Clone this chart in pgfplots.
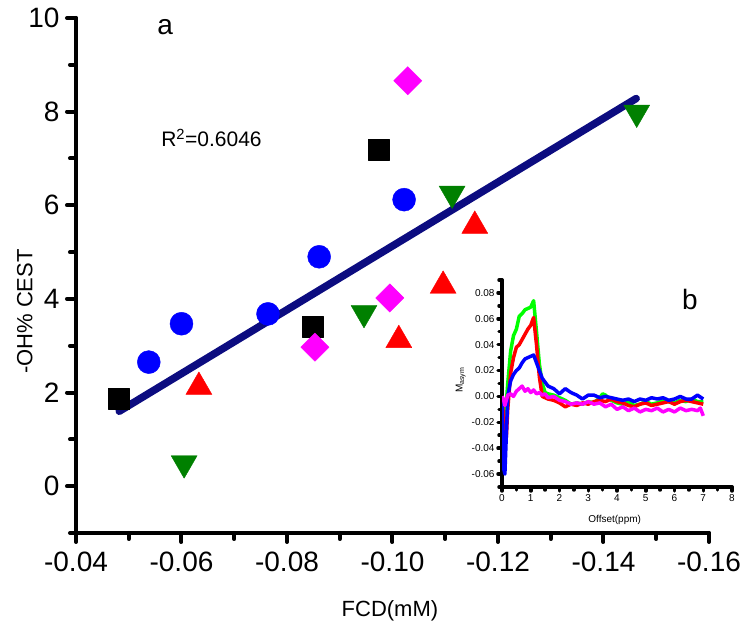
\documentclass[border=0pt]{standalone}
\usepackage{fontspec}
\setmainfont{Liberation Sans}
\usepackage{pgfplots}
\pgfplotsset{compat=1.18}
\definecolor{navy}{RGB}{12,12,128}
\definecolor{mgreen}{RGB}{0,128,0}
\definecolor{lgreen}{RGB}{0,255,0}
\definecolor{mag}{RGB}{255,0,255}
\definecolor{pblue}{RGB}{0,0,255}
\definecolor{pred}{RGB}{255,0,0}
\begin{document}
\begin{tikzpicture}
\useasboundingbox (-76pt,-98pt) rectangle (671pt,533pt);
\begin{axis}[
  at={(0pt,0pt)}, anchor=south west,
  scale only axis, width=633pt, height=515pt,
  x dir=reverse,
  xmin=-0.16, xmax=-0.04, ymin=-1, ymax=10,
  axis x line*=bottom, axis y line*=left,
  axis line style={line width=4pt, line cap=round, -},
  xtick={-0.04,-0.06,-0.08,-0.10,-0.12,-0.14,-0.16},
  xticklabels={-0.04,-0.06,-0.08,-0.10,-0.12,-0.14,-0.16},
  minor xtick={-0.05,-0.07,-0.09,-0.11,-0.13,-0.15},
  ytick={0,2,4,6,8,10},
  minor ytick={-1,1,3,5,7,9},
  /pgf/number format/assume math mode=true,
  tick align=outside,
  major tick length=9pt, minor tick length=6pt,
  tick style={black, line width=4pt, line cap=round},
  tick label style={font=\fontsize{28}{30}\selectfont},
  xticklabel style={yshift=-6pt},
  yticklabel style={xshift=-4pt},
  xlabel={FCD(mM)}, ylabel={-OH\% CEST},
  label style={font=\fontsize{22}{24}\selectfont},
  x label style={at={(axis description cs:0.496,-0.151)}, anchor=center},
  y label style={at={(axis description cs:-0.081,0.43)}, anchor=center, rotate=0},
]
% regression line
\addplot[navy, line width=7.5pt, line cap=round] coordinates {(-0.0482,1.60) (-0.1462,8.28)};
% black squares
\addplot[only marks, mark=square*, mark size=10.5pt, mark options={black, fill=black, line join=round, line width=1pt}]
  coordinates {(-0.0482,1.86) (-0.0849,3.40) (-0.0974,7.19)};
% blue circles
\addplot[only marks, mark=*, mark size=11.5pt, mark options={pblue, fill=pblue}]
  coordinates {(-0.0538,2.65) (-0.0600,3.47) (-0.0764,3.68) (-0.0861,4.90) (-0.1022,6.12)};
% red up triangles
\addplot[only marks, mark=triangle*, mark size=15pt, mark options={pred, fill=pred, line join=round}]
  coordinates {(-0.0633,2.12) (-0.1012,3.12) (-0.1096,4.28) (-0.1156,5.56)};
% green down triangles
\addplot[only marks, mark=triangle*, mark size=15pt, mark options={mgreen, fill=mgreen, rotate=180, line join=round}]
  coordinates {(-0.0605,0.49) (-0.0946,3.70) (-0.1113,6.25) (-0.1463,7.98)};
% magenta diamonds
\addplot[only marks, mark=square*, mark size=10pt, mark options={mag, fill=mag, rotate=45, line join=round}]
  coordinates {(-0.0853,2.97) (-0.0995,4.02) (-0.1029,8.66)};
\node[font=\fontsize{28}{30}\selectfont] at (axis cs:-0.0569,9.8) {a};
\node[font=\fontsize{21}{24}\selectfont, anchor=west] at (axis cs:-0.0555,7.44) {R\textsuperscript{2}=0.6046};
\end{axis}
\begin{axis}[
  at={(426pt,46pt)}, anchor=south west,
  scale only axis, width=230pt, height=207pt,
  xmin=0, xmax=8, ymin=-0.07, ymax=0.09,
  axis x line*=bottom, axis y line*=left,
  axis line style={line width=3.5pt, line cap=round, -},
  xtick={0,1,2,3,4,5,6,7,8},
  minor xtick={0.5,1.5,2.5,3.5,4.5,5.5,6.5,7.5},
  ytick={-0.06,-0.04,-0.02,0,0.02,0.04,0.06,0.08},
  minor ytick={-0.07,-0.05,-0.03,-0.01,0.01,0.03,0.05,0.07,0.09},
  scaled y ticks=false,
  /pgf/number format/assume math mode=true,
  yticklabel style={/pgf/number format/fixed, /pgf/number format/fixed zerofill, /pgf/number format/precision=2},
  tick align=outside,
  major tick length=4pt, minor tick length=3pt,
  tick style={black, line width=3.5pt, line cap=round},
  tick label style={font=\fontsize{10}{12}\selectfont},
  xlabel={Offset(ppm)}, ylabel={M\textsubscript{asym}},
  label style={font=\fontsize{10}{12}\selectfont},
  x label style={at={(axis description cs:0.49,-0.16)}, anchor=center},
  y label style={at={(axis description cs:-0.18,0.517)}, anchor=center, rotate=0},
  every axis plot/.append style={line width=3.5pt, line join=round},
]
\addplot[lgreen] coordinates {
(0,0.000) (0.05,-0.030) (0.1,-0.020) (0.2,0.010) (0.3,0.035) (0.4,0.047) (0.5,0.052) (0.6,0.062) (0.7,0.064) (0.8,0.067) (0.9,0.068) (1.0,0.069) (1.1,0.074) (1.2,0.050) (1.3,0.025) (1.4,0.010) (1.5,0.003) (1.6,0.002) (1.8,0.001) (2.0,-0.001) (2.2,-0.003) (2.4,-0.006) (2.6,-0.005) (2.8,-0.006) (3.0,-0.004) (3.2,-0.005) (3.4,-0.001) (3.5,0.002) (3.6,0.001) (3.8,-0.003) (4.0,-0.005) (4.2,-0.006) (4.4,-0.004) (4.6,-0.007) (4.8,-0.006) (5.0,-0.004) (5.2,-0.006) (5.4,-0.005) (5.6,-0.003) (5.8,-0.004) (6.0,-0.005) (6.2,-0.003) (6.4,-0.004) (6.6,-0.002) (6.8,-0.004) (7.0,-0.004)};
\addplot[pred] coordinates {
(0,0.000) (0.05,-0.015) (0.1,-0.030) (0.15,-0.032) (0.2,-0.010) (0.3,0.018) (0.4,0.030) (0.5,0.038) (0.6,0.040) (0.7,0.044) (0.8,0.048) (0.9,0.052) (1.0,0.055) (1.1,0.061) (1.2,0.040) (1.3,0.015) (1.4,0.000) (1.6,-0.002) (1.8,-0.003) (2.0,-0.005) (2.2,-0.008) (2.4,-0.006) (2.6,-0.007) (2.8,-0.005) (3.0,-0.006) (3.2,-0.004) (3.4,-0.003) (3.6,-0.004) (3.8,-0.002) (4.0,-0.004) (4.2,-0.005) (4.4,-0.007) (4.6,-0.008) (4.8,-0.006) (5.0,-0.005) (5.2,-0.007) (5.4,-0.006) (5.6,-0.005) (5.8,-0.004) (6.0,-0.006) (6.2,-0.004) (6.4,-0.003) (6.6,-0.004) (6.8,-0.005) (7.0,-0.006)};
\addplot[pblue] coordinates {
(0,0.000) (0.05,-0.055) (0.1,-0.060) (0.15,-0.030) (0.2,0.000) (0.3,0.012) (0.4,0.017) (0.5,0.020) (0.6,0.022) (0.7,0.026) (0.8,0.029) (0.9,0.030) (1.0,0.031) (1.1,0.032) (1.2,0.026) (1.3,0.020) (1.4,0.014) (1.5,0.011) (1.6,0.008) (1.8,0.006) (2.0,0.002) (2.2,0.006) (2.4,0.003) (2.6,0.001) (2.8,-0.002) (3.0,0.001) (3.2,0.001) (3.4,-0.001) (3.6,0.000) (3.8,-0.001) (4.0,-0.002) (4.2,-0.003) (4.4,-0.002) (4.6,-0.004) (4.8,-0.002) (5.0,-0.003) (5.2,-0.001) (5.4,-0.002) (5.6,-0.001) (5.8,-0.003) (6.0,-0.002) (6.2,0.000) (6.4,-0.002) (6.6,-0.002) (6.8,0.001) (7.0,-0.002)};
\addplot[mag] coordinates {
(0,0.000) (0.05,-0.002) (0.1,-0.007) (0.15,-0.003) (0.2,0.001) (0.3,0.002) (0.4,0.000) (0.5,0.004) (0.6,0.006) (0.7,0.008) (0.8,0.004) (0.9,0.006) (1.0,0.003) (1.1,0.005) (1.2,0.002) (1.3,0.003) (1.4,0.001) (1.5,0.002) (1.6,-0.001) (1.8,0.000) (2.0,-0.003) (2.2,-0.004) (2.4,-0.006) (2.6,-0.005) (2.8,-0.006) (3.0,-0.004) (3.2,-0.006) (3.4,-0.005) (3.6,-0.008) (3.8,-0.006) (4.0,-0.010) (4.2,-0.008) (4.4,-0.011) (4.6,-0.009) (4.8,-0.012) (5.0,-0.010) (5.2,-0.011) (5.4,-0.009) (5.6,-0.012) (5.8,-0.010) (6.0,-0.012) (6.2,-0.009) (6.4,-0.011) (6.6,-0.010) (6.8,-0.011) (6.9,-0.009) (7.0,-0.015)};
\node[font=\fontsize{28}{30}\selectfont] at (axis cs:6.54,0.0746) {b};
\end{axis}
\end{tikzpicture}
\end{document}
